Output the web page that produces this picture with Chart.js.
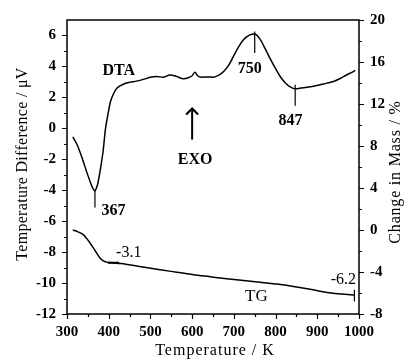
<!DOCTYPE html>
<html>
<head>
<meta charset="utf-8">
<script src="https://cdn.jsdelivr.net/npm/chart.js@4/dist/chart.umd.min.js"></script>
<style>
  html, body { margin: 0; padding: 0; background: #fff; }
  #wrap { width: 408px; height: 360px; }
</style>
</head>
<body>
<div id="wrap"><canvas id="c" width="408" height="360"></canvas></div>
<script>
// DTA trace: temperature (K) and temperature difference (µV)
const dtaTemperature = [314, 324, 336, 348, 358, 362, 367, 370, 374, 380, 387, 392, 398, 404, 411, 420, 435, 450, 467, 485, 499, 515, 530, 547, 563, 579, 592, 600, 607, 613, 623, 637, 651, 665, 675, 687, 699, 711, 723, 737, 750, 763, 775, 787, 799, 811, 823, 835, 847, 860, 875, 891, 907, 923, 939, 955, 971, 983, 991];
const dtaSignal = [-0.55, -1.05, -1.9, -2.88, -3.63, -3.88, -4.05, -3.9, -3.55, -2.66, -1.37, -0.08, 0.88, 1.7, 2.2, 2.6, 2.85, 2.97, 3.05, 3.18, 3.3, 3.35, 3.3, 3.45, 3.35, 3.2, 3.28, 3.4, 3.62, 3.4, 3.3, 3.32, 3.3, 3.45, 3.65, 4.05, 4.65, 5.25, 5.72, 6.02, 6.1, 5.75, 5.15, 4.5, 3.9, 3.35, 2.95, 2.68, 2.55, 2.6, 2.65, 2.72, 2.82, 2.92, 3.03, 3.22, 3.46, 3.62, 3.74];

// TG trace: temperature (K) and change in mass (%)
const tgTemperature = [314, 325, 339, 351, 363, 372, 379, 387, 395, 405, 430, 470, 523, 563, 603, 643, 683, 723, 763, 803, 843, 883, 923, 960, 989];
const tgMass = [0.0, -0.15, -0.44, -1.0, -1.7, -2.25, -2.67, -2.95, -3.06, -3.1, -3.2, -3.45, -3.78, -4.02, -4.26, -4.45, -4.64, -4.8, -4.97, -5.15, -5.38, -5.65, -5.95, -6.1, -6.2];

// Marked events
const dtaEvents = [367, 750, 847];
const tgEvents = [-3.1, -6.2];

const SERIF = "'Liberation Serif', 'Times New Roman', serif";

const toPoints = (xs, ys) => xs.map((x, i) => ({ x, y: ys[i] }));

const decor = {
  id: 'decor',
  afterDraw(chart) {
    const { ctx, chartArea: a, scales } = chart;
    const x = scales.x, yL = scales.yL, yR = scales.yR;
    const px = v => x.getPixelForValue(v);
    const pL = v => yL.getPixelForValue(v);
    const pR = v => yR.getPixelForValue(v);
    ctx.save();
    ctx.strokeStyle = '#000';
    ctx.fillStyle = '#000';
    ctx.lineCap = 'butt';

    // frame
    ctx.lineWidth = 1.5;
    ctx.strokeRect(a.left, a.top, a.right - a.left, a.bottom - a.top);

    // tick marks
    ctx.lineWidth = 1.2;
    ctx.beginPath();
    for (let v = -12; v < 7; v += 1) {
      const len = v % 2 === 0 ? 5 : 3;
      const y = Math.round(pL(v)) + 0.5;
      ctx.moveTo(a.left - len, y); ctx.lineTo(a.left, y);
    }
    for (let v = -8; v <= 20; v += 2) {
      const len = v % 4 === 0 ? 5 : 3;
      const y = Math.round(pR(v)) + 0.5;
      ctx.moveTo(a.right, y); ctx.lineTo(a.right + len, y);
    }
    for (let v = 300; v <= 1000; v += 50) {
      const len = v % 100 === 0 ? 5 : 3;
      const xx = Math.round(px(v)) + 0.5;
      ctx.moveTo(xx, a.bottom); ctx.lineTo(xx, a.bottom + len);
    }
    ctx.stroke();

    // axis titles
    ctx.font = "16px " + SERIF;
    ctx.textAlign = 'center';
    ctx.textBaseline = 'middle';
    ctx.letterSpacing = '1px';
    ctx.fillText('Temperature / K', (a.left + a.right) / 2 + 2, 351);
    ctx.letterSpacing = '0.3px';
    ctx.save();
    ctx.translate(23, (a.top + a.bottom) / 2 - 3);
    ctx.rotate(-Math.PI / 2);
    ctx.fillText('Temperature Difference / \u03BCV', 0, 0);
    ctx.restore();
    ctx.letterSpacing = '0.8px';
    ctx.save();
    ctx.translate(396, (a.top + a.bottom) / 2 + 5);
    ctx.rotate(-Math.PI / 2);
    ctx.fillText('Change in Mass / %', 0, 0);
    ctx.restore();
    ctx.letterSpacing = '0px';

    // event markers on the DTA trace
    ctx.lineWidth = 1.2;
    ctx.beginPath();
    const mk = (t, v0, v1) => { const xx = px(t); ctx.moveTo(xx, pL(v0)); ctx.lineTo(xx, pL(v1)); };
    mk(dtaEvents[0], -4.05, -5.12);
    mk(dtaEvents[1], 6.26, 4.86);
    mk(dtaEvents[2], 2.82, 1.46);
    // end marker on the TG trace
    ctx.moveTo(px(989), pR(-5.69)); ctx.lineTo(px(989), pR(-6.81));
    ctx.stroke();
    // plateau marker on the TG trace
    ctx.lineWidth = 2;
    ctx.beginPath();
    ctx.moveTo(px(398), pR(-3.12)); ctx.lineTo(px(425), pR(-3.12));
    ctx.stroke();

    // EXO arrow
    const ax = px(600);
    ctx.lineWidth = 2;
    ctx.beginPath();
    ctx.moveTo(ax, pL(-0.73)); ctx.lineTo(ax, pL(1.25));
    ctx.stroke();
    const tipY = pL(1.34);
    ctx.lineWidth = 2.2;
    ctx.lineJoin = 'miter';
    ctx.beginPath();
    ctx.moveTo(ax - 6, tipY + 7);
    ctx.lineTo(ax, tipY + 1);
    ctx.lineTo(ax + 6, tipY + 7);
    ctx.stroke();

    // text labels
    ctx.textBaseline = 'middle';
    ctx.textAlign = 'center';
    ctx.font = "bold 16px " + SERIF;
    ctx.fillText('DTA', px(424), pL(3.72));
    ctx.fillText('EXO', px(607), pL(-2.02));
    ctx.font = "600 16px " + SERIF;
    ctx.textAlign = 'left';
    ctx.fillText(String(dtaEvents[0]), px(383), pL(-5.32));
    ctx.textAlign = 'center';
    ctx.fillText(String(dtaEvents[1]), px(738), pL(3.85));
    ctx.fillText(String(dtaEvents[2]), px(836), pL(0.46));
    ctx.font = "16px " + SERIF;
    ctx.fillText(tgEvents[0].toFixed(1), px(448), pR(-2.18));
    ctx.textAlign = 'right';
    ctx.fillText(tgEvents[1].toFixed(1), px(993), pR(-4.71));
    ctx.textAlign = 'center';
    ctx.font = "17px " + SERIF;
    ctx.fillText('TG', px(754), pR(-6.38));

    ctx.restore();
  }
};

const tickFont = { family: SERIF, size: 15, weight: 'bold' };
const plainTick = v => String(v);

new Chart(document.getElementById('c'), {
  type: 'line',
  data: {
    datasets: [
      {
        label: 'DTA',
        data: toPoints(dtaTemperature, dtaSignal),
        yAxisID: 'yL',
        borderColor: '#000',
        borderWidth: 1.5,
        pointRadius: 0,
        fill: false,
        cubicInterpolationMode: 'monotone'
      },
      {
        label: 'TG',
        data: toPoints(tgTemperature, tgMass),
        yAxisID: 'yR',
        borderColor: '#000',
        borderWidth: 1.5,
        pointRadius: 0,
        fill: false,
        cubicInterpolationMode: 'monotone'
      }
    ]
  },
  options: {
    responsive: false,
    animation: false,
    devicePixelRatio: 1,
    layout: { padding: { top: 20, left: 0, right: 0, bottom: 0 } },
    plugins: { legend: { display: false }, tooltip: { enabled: false } },
    scales: {
      x: {
        type: 'linear',
        min: 300, max: 1000,
        grid: { display: false, drawTicks: false },
        border: { display: false },
        ticks: { stepSize: 100, padding: 9, color: '#000', font: tickFont, maxRotation: 0, callback: plainTick },
        afterFit(s) { s.height = 46; }
      },
      yL: {
        type: 'linear',
        position: 'left',
        min: -12, max: 7,
        grid: { display: false, drawTicks: false },
        border: { display: false },
        ticks: { stepSize: 2, includeBounds: false, padding: 11, color: '#000', font: tickFont, callback: plainTick },
        afterFit(s) { s.width = 67; }
      },
      yR: {
        type: 'linear',
        position: 'right',
        min: -8, max: 20,
        grid: { display: false, drawTicks: false },
        border: { display: false },
        ticks: { stepSize: 4, padding: 11, color: '#000', font: tickFont, callback: plainTick },
        afterFit(s) { s.width = 49; }
      }
    }
  },
  plugins: [decor]
});
</script>
</body>
</html>
